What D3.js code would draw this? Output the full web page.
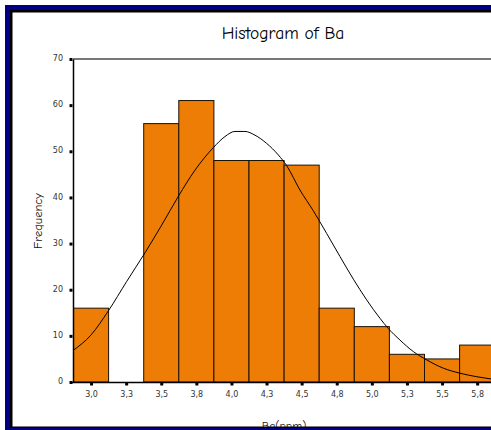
<!DOCTYPE html>
<html>
<head>
<meta charset="utf-8">
<script src="https://cdn.jsdelivr.net/npm/d3@7/dist/d3.min.js"></script>
<style>
  html, body { margin: 0; padding: 0; background: #fff; overflow: hidden; }
  svg { display: block; }
</style>
</head>
<body>
<svg id="chart" width="491" height="430"></svg>
<script>
// ---- data ----
const binCenters = [3.0, 3.25, 3.5, 3.75, 4.0, 4.25, 4.5, 4.75, 5.0, 5.25, 5.5, 5.75];
const binLabels  = ["3,0", "3,3", "3,5", "3,8", "4,0", "4,3", "4,5", "4,8", "5,0", "5,3", "5,5", "5,8"];
const frequencies = [16, 0, 56, 61, 48, 48, 47, 16, 12, 6, 5, 8];
const yTicks = [0, 10, 20, 30, 40, 50, 60, 70];
// fitted normal curve
const curveX = [2.875, 3.0, 3.123, 3.254, 3.384, 3.503, 3.621, 3.74, 3.871, 3.954, 4.025, 4.096, 4.167, 4.251, 4.334, 4.393, 4.488, 4.583, 4.678, 4.773, 4.868, 4.963, 5.058, 5.117, 5.2, 5.295, 5.39, 5.509, 5.628, 5.747, 5.849];
const curveY = [6.9, 10.2, 15.4, 21.8, 28.0, 34.0, 40.2, 45.9, 50.8, 53.2, 54.3, 54.3, 53.5, 51.7, 49.2, 46.9, 41.6, 37.1, 32.2, 27.2, 22.3, 17.8, 13.8, 11.6, 9.1, 6.6, 4.8, 3.0, 1.9, 1.15, 0.65];
const binWidth = 0.25;

const title = "Histogram of Ba";
const xTitle = "Ba(ppm)";
const yTitle = "Frequency";

// ---- drawing ----
const svg = d3.select("#chart");
const W = 491, H = 430;

svg.append("rect").attr("x", 0).attr("y", 0).attr("width", W).attr("height", H).attr("fill", "#fff");

const x = d3.scaleLinear().domain([2.875, 5.875]).range([73.5, 494.7]);
const y = d3.scaleLinear().domain([0, 70]).range([382, 59]);

const titleFont = "'Comic Sans MS', 'Comic Neue', 'DejaVu Sans', sans-serif";
const tickFont = "'DejaVu Sans', Verdana, sans-serif";

// plot top border
svg.append("line")
  .attr("x1", x.range()[0] - 0.5).attr("x2", W + 5)
  .attr("y1", y(70)).attr("y2", y(70))
  .attr("stroke", "#4a4a4a").attr("stroke-width", 1.5);

// bars
svg.append("g").selectAll("rect")
  .data(frequencies.map((f, i) => ({c: binCenters[i], f})))
  .join("rect")
  .filter(d => d.f > 0)
  .attr("x", d => x(d.c - binWidth / 2))
  .attr("width", d => x(d.c + binWidth / 2) - x(d.c - binWidth / 2))
  .attr("y", d => y(d.f))
  .attr("height", d => y(0) - y(d.f))
  .attr("fill", "#ee7d05")
  .attr("stroke", "#1a1205")
  .attr("stroke-width", 1);

// curve
const line = d3.line()
  .x(d => x(d[0])).y(d => y(d[1]))
  .curve(d3.curveMonotoneX);
svg.append("path")
  .datum(curveX.map((v, i) => [v, curveY[i]]))
  .attr("d", line)
  .attr("fill", "none")
  .attr("stroke", "#000")
  .attr("stroke-width", 1);

// axes
const xAxis = d3.axisBottom(x)
  .tickValues(binCenters)
  .tickFormat((d, i) => binLabels[i])
  .tickSize(3)
  .tickSizeOuter(0)
  .tickPadding(6);
const gx = svg.append("g").attr("transform", `translate(0,${y(0)})`).call(xAxis);
gx.select(".domain").attr("stroke", "#000").attr("stroke-width", 1.5)
  .attr("d", `M${x.range()[0] - 2},0.5H${W + 5}`);
gx.selectAll(".tick line").attr("stroke", "#000").attr("stroke-width", 3).attr("y1", 0.5).attr("y2", 3.5);
gx.selectAll(".tick text").attr("font-family", tickFont).attr("font-size", 8).attr("fill", "#333");

const yAxis = d3.axisLeft(y)
  .tickValues(yTicks)
  .tickSize(3)
  .tickSizeOuter(0)
  .tickPadding(7);
const gy = svg.append("g").attr("transform", `translate(${x.range()[0] - 0.5},0)`).call(yAxis);
gy.select(".domain").attr("stroke", "#000").attr("stroke-width", 1.5);
gy.selectAll(".tick line").attr("stroke", "#000").attr("stroke-width", 3).attr("x1", -0.5).attr("x2", -3.5);
gy.selectAll(".tick text").attr("font-family", tickFont).attr("font-size", 8).attr("fill", "#333").attr("dy", "0.2em");

// titles
svg.append("text")
  .attr("x", 283).attr("y", 39)
  .attr("text-anchor", "middle")
  .attr("font-family", titleFont).attr("font-size", 17.5)
  .attr("fill", "#000")
  .text(title);

svg.append("text")
  .attr("transform", "translate(42,221) rotate(-90)")
  .attr("text-anchor", "middle")
  .attr("font-family", titleFont).attr("font-size", 12.5)
  .attr("fill", "#111")
  .text(yTitle);

svg.append("text")
  .attr("x", 284).attr("y", 430)
  .attr("text-anchor", "middle")
  .attr("font-family", titleFont).attr("font-size", 12)
  .attr("fill", "#111")
  .text(xTitle);

// window frame
const frame = svg.append("g");
frame.append("rect").attr("x", 5).attr("y", 5).attr("width", W).attr("height", 5).attr("fill", "#000080");
frame.append("rect").attr("x", 5).attr("y", 5).attr("width", 5).attr("height", H).attr("fill", "#000080");
frame.append("rect").attr("x", 10).attr("y", 10).attr("width", W).attr("height", 2.5).attr("fill", "#000");
frame.append("rect").attr("x", 10).attr("y", 10).attr("width", 2.5).attr("height", H).attr("fill", "#000");
frame.append("rect").attr("x", 10).attr("y", 426.5).attr("width", W).attr("height", 1.5).attr("fill", "#000");
frame.append("rect").attr("x", 5).attr("y", 428).attr("width", W).attr("height", 2).attr("fill", "#000080");
</script>
</body>
</html>
